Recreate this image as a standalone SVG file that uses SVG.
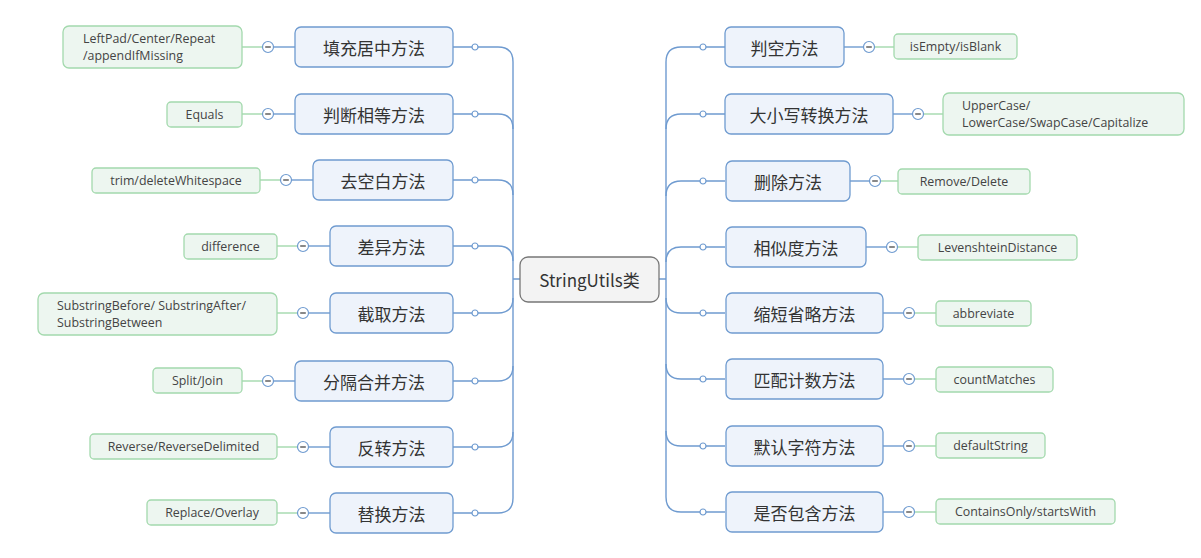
<svg xmlns="http://www.w3.org/2000/svg" width="1201" height="558" viewBox="0 0 1201 558">
<defs>
<style>
.n{fill:#eef3fb;stroke:#6f9bd0;stroke-width:1.3}
.leaf{fill:#edf6f0;stroke:#a3d9ad;stroke-width:1.3}
.c{fill:none;stroke:#6f9bd0;stroke-width:1.4}
.g{fill:none;stroke:#a3d9ad;stroke-width:1.4}
.dot{fill:#fff;stroke:#6f9bd0;stroke-width:1.2}
.mn{fill:#fff;stroke:#6f9bd0;stroke-width:1.2}
.ml{stroke:#555;stroke-width:1.4}
.t{font-family:"Noto Sans CJK SC","Noto Sans",sans-serif;font-size:17px;fill:#333;text-anchor:middle;dominant-baseline:central}
.s{font-family:"Open Sans","Noto Sans",sans-serif;font-size:12.4px;fill:#444;text-anchor:middle;dominant-baseline:central}
.sl{font-family:"Open Sans","Noto Sans",sans-serif;font-size:12.4px;fill:#444;text-anchor:start;dominant-baseline:central}
</style>
<g id="dotL"><circle class="dot" r="3"/></g>
<g id="minus"><circle class="mn" r="5.5"/><line class="ml" x1="-2.8" y1="0" x2="2.8" y2="0"/></g>
</defs>
<rect width="1201" height="558" fill="#fff"/>
<g id="connectors">
<path class="c" d="M513 62 V498 M513 279 H520"/>
<path class="c" d="M453 47 H498 Q513 47 513 62"/>
<path class="c" d="M453 114 H498 Q513 114 513 129"/>
<path class="c" d="M453 180 H498 Q513 180 513 195"/>
<path class="c" d="M453 246 H498 Q513 246 513 261"/>
<path class="c" d="M453 313 H498 Q513 313 513 298"/>
<path class="c" d="M453 381 H498 Q513 381 513 366"/>
<path class="c" d="M453 447 H498 Q513 447 513 432"/>
<path class="c" d="M453 513 H498 Q513 513 513 498"/>
<path class="c" d="M666 62 V497 M659 279 H666"/>
<path class="c" d="M725 47 H681 Q666 47 666 62"/>
<path class="c" d="M725 114 H681 Q666 114 666 129"/>
<path class="c" d="M725 181 H681 Q666 181 666 196"/>
<path class="c" d="M725 247 H681 Q666 247 666 262"/>
<path class="c" d="M725 313 H681 Q666 313 666 298"/>
<path class="c" d="M725 379 H681 Q666 379 666 364"/>
<path class="c" d="M725 446 H681 Q666 446 666 431"/>
<path class="c" d="M725 512 H681 Q666 512 666 497"/>
<path class="c" d="M295 47 H268"/><path class="g" d="M268 47 H242"/>
<path class="c" d="M295 114 H268"/><path class="g" d="M268 114 H242"/>
<path class="c" d="M313 180 H286"/><path class="g" d="M286 180 H260"/>
<path class="c" d="M330 246 H303"/><path class="g" d="M303 246 H277"/>
<path class="c" d="M330 313 H303"/><path class="g" d="M303 313 H277"/>
<path class="c" d="M295 381 H268"/><path class="g" d="M268 381 H242"/>
<path class="c" d="M330 447 H303"/><path class="g" d="M303 447 H277"/>
<path class="c" d="M330 513 H303"/><path class="g" d="M303 513 H277"/>
<path class="c" d="M844 47 H869"/><path class="g" d="M869 47 H894"/>
<path class="c" d="M893 114 H918"/><path class="g" d="M918 114 H943"/>
<path class="c" d="M850 181 H875"/><path class="g" d="M875 181 H898"/>
<path class="c" d="M866 247 H892"/><path class="g" d="M892 247 H918"/>
<path class="c" d="M883 313 H909"/><path class="g" d="M909 313 H936"/>
<path class="c" d="M883 379 H909"/><path class="g" d="M909 379 H936"/>
<path class="c" d="M883 446 H909"/><path class="g" d="M909 446 H936"/>
<path class="c" d="M883 512 H909"/><path class="g" d="M909 512 H936"/>
<use href="#dotL" x="475" y="47"/><use href="#dotL" x="475" y="114"/><use href="#dotL" x="475" y="180"/><use href="#dotL" x="475" y="246"/>
<use href="#dotL" x="475" y="313"/><use href="#dotL" x="475" y="381"/><use href="#dotL" x="475" y="447"/><use href="#dotL" x="475" y="513"/>
<use href="#dotL" x="703" y="47"/><use href="#dotL" x="703" y="114"/><use href="#dotL" x="703" y="181"/><use href="#dotL" x="703" y="247"/>
<use href="#dotL" x="703" y="313"/><use href="#dotL" x="703" y="379"/><use href="#dotL" x="703" y="446"/><use href="#dotL" x="703" y="512"/>
<use href="#minus" x="268" y="47"/><use href="#minus" x="268" y="114"/><use href="#minus" x="286" y="180"/><use href="#minus" x="303" y="246"/>
<use href="#minus" x="303" y="313"/><use href="#minus" x="268" y="381"/><use href="#minus" x="303" y="447"/><use href="#minus" x="303" y="513"/>
<use href="#minus" x="869" y="47"/><use href="#minus" x="918" y="114"/><use href="#minus" x="875" y="181"/><use href="#minus" x="892" y="247"/>
<use href="#minus" x="909" y="313"/><use href="#minus" x="909" y="379"/><use href="#minus" x="909" y="446"/><use href="#minus" x="909" y="512"/>
</g>
<g id="root"><rect x="520" y="257" width="139" height="45" rx="8" fill="#f3f3f3" stroke="#777" stroke-width="1.3"/><text class="t" x="589.5" y="279.5" font-size="15" fill="#444">StringUtils类</text></g>
<g id="n-fill"><rect class="n" x="295" y="27" width="158" height="40" rx="6"/><text class="t" x="374" y="47">填充居中方法</text></g>
<g id="n-equal"><rect class="n" x="295" y="94" width="158" height="40" rx="6"/><text class="t" x="374" y="114">判断相等方法</text></g>
<g id="n-trim"><rect class="n" x="313" y="160" width="140" height="40" rx="6"/><text class="t" x="383" y="180">去空白方法</text></g>
<g id="n-diff"><rect class="n" x="330" y="226" width="123" height="40" rx="6"/><text class="t" x="391.5" y="246">差异方法</text></g>
<g id="n-sub"><rect class="n" x="330" y="293" width="123" height="40" rx="6"/><text class="t" x="391.5" y="313">截取方法</text></g>
<g id="n-split"><rect class="n" x="295" y="361" width="158" height="40" rx="6"/><text class="t" x="374" y="381">分隔合并方法</text></g>
<g id="n-rev"><rect class="n" x="330" y="427" width="123" height="40" rx="6"/><text class="t" x="391.5" y="447">反转方法</text></g>
<g id="n-rep"><rect class="n" x="330" y="493" width="123" height="40" rx="6"/><text class="t" x="391.5" y="513">替换方法</text></g>
<g id="l-fill"><rect class="leaf" x="63" y="26" width="179" height="42" rx="6"/><text class="sl" x="83" y="38.5">LeftPad/Center/Repeat</text><text class="sl" x="83" y="55.5">/appendIfMissing</text></g>
<g id="l-equal"><rect class="leaf" x="167" y="102" width="75" height="25" rx="4"/><text class="s" x="204.5" y="114.5">Equals</text></g>
<g id="l-trim"><rect class="leaf" x="92" y="168" width="168" height="25" rx="4"/><text class="s" x="176" y="180.5">trim/deleteWhitespace</text></g>
<g id="l-diff"><rect class="leaf" x="184" y="234" width="93" height="25" rx="4"/><text class="s" x="230.5" y="246.5">difference</text></g>
<g id="l-sub"><rect class="leaf" x="38" y="293" width="239" height="42" rx="6"/><text class="sl" x="57" y="305.5">SubstringBefore/ SubstringAfter/</text><text class="sl" x="57" y="322.5">SubstringBetween</text></g>
<g id="l-split"><rect class="leaf" x="153" y="368" width="89" height="25" rx="4"/><text class="s" x="197.5" y="380.5">Split/Join</text></g>
<g id="l-rev"><rect class="leaf" x="90" y="434" width="187" height="25" rx="4"/><text class="s" x="183.5" y="446.5">Reverse/ReverseDelimited</text></g>
<g id="l-rep"><rect class="leaf" x="147" y="500" width="130" height="25" rx="4"/><text class="s" x="212" y="512.5">Replace/Overlay</text></g>
<g id="n-empty"><rect class="n" x="725" y="27" width="119" height="40" rx="6"/><text class="t" x="784.5" y="47">判空方法</text></g>
<g id="n-case"><rect class="n" x="725" y="94" width="168" height="40" rx="6"/><text class="t" x="809" y="114">大小写转换方法</text></g>
<g id="n-del"><rect class="n" x="726" y="161" width="124" height="40" rx="6"/><text class="t" x="788" y="181">删除方法</text></g>
<g id="n-sim"><rect class="n" x="726" y="227" width="140" height="40" rx="6"/><text class="t" x="796" y="247">相似度方法</text></g>
<g id="n-abbr"><rect class="n" x="726" y="293" width="157" height="40" rx="6"/><text class="t" x="804.5" y="313">缩短省略方法</text></g>
<g id="n-count"><rect class="n" x="726" y="359" width="157" height="40" rx="6"/><text class="t" x="804.5" y="379">匹配计数方法</text></g>
<g id="n-def"><rect class="n" x="726" y="426" width="157" height="40" rx="6"/><text class="t" x="804.5" y="446">默认字符方法</text></g>
<g id="n-cont"><rect class="n" x="726" y="492" width="157" height="40" rx="6"/><text class="t" x="804.5" y="512">是否包含方法</text></g>
<g id="l-empty"><rect class="leaf" x="894" y="34" width="123" height="25" rx="4"/><text class="s" x="955.5" y="46.5">isEmpty/isBlank</text></g>
<g id="l-case"><rect class="leaf" x="943" y="93" width="241" height="42" rx="6"/><text class="sl" x="962" y="105.5">UpperCase/</text><text class="sl" x="962" y="122.5">LowerCase/SwapCase/Capitalize</text></g>
<g id="l-del"><rect class="leaf" x="898" y="169" width="132" height="25" rx="4"/><text class="s" x="964" y="181.5">Remove/Delete</text></g>
<g id="l-sim"><rect class="leaf" x="918" y="235" width="159" height="25" rx="4"/><text class="s" x="997.5" y="247.5">LevenshteinDistance</text></g>
<g id="l-abbr"><rect class="leaf" x="936" y="301" width="95" height="25" rx="4"/><text class="s" x="983.5" y="313.5">abbreviate</text></g>
<g id="l-count"><rect class="leaf" x="936" y="367" width="117" height="25" rx="4"/><text class="s" x="994.5" y="379.5">countMatches</text></g>
<g id="l-def"><rect class="leaf" x="936" y="433" width="109" height="25" rx="4"/><text class="s" x="990.5" y="445.5">defaultString</text></g>
<g id="l-cont"><rect class="leaf" x="936" y="499" width="179" height="25" rx="4"/><text class="s" x="1025.5" y="511.5">ContainsOnly/startsWith</text></g>
</svg>
